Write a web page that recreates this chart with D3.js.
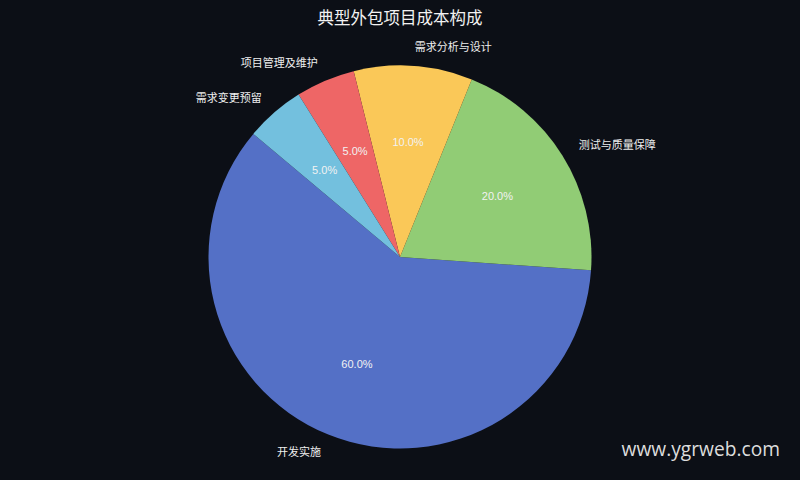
<!DOCTYPE html>
<html><head><meta charset="utf-8">
<script src="https://cdn.jsdelivr.net/npm/d3@7"></script>
<style>html,body{margin:0;padding:0;background:#0c0f16;}svg{display:block;}</style>
</head><body>
<svg id="c" width="800" height="480"></svg>
<script>
const categories = ["开发实施", "测试与质量保障", "需求分析与设计", "项目管理及维护", "需求变更预留"];
const values = [60, 20, 10, 5, 5];
const colors = ["#5470c6", "#91cc75", "#fac858", "#ee6666", "#73c0de"];
const title = "典型外包项目成本构成";
const watermark = "www.ygrweb.com";

const W = 800, H = 480, cx = 400, cy = 257, R = 191.5;
const startDeg = 140; // math angle, counter-clockwise
const svg = d3.select("#c");
svg.append("rect").attr("width", W).attr("height", H).attr("fill", "#0c0f16");

const toD3 = deg => (90 - deg) * Math.PI / 180;
const pie = d3.pie().sort(null).value(d => d)
  .startAngle(toD3(startDeg)).endAngle(toD3(startDeg) - 2 * Math.PI);
const arcs = pie(values);
const arc = d3.arc().innerRadius(0).outerRadius(R);
const g = svg.append("g").attr("transform", `translate(${cx},${cy})`);
const font = "'Liberation Sans','Noto Sans CJK SC',sans-serif";

g.selectAll("path").data(arcs).join("path")
  .attr("d", arc).attr("fill", (d, i) => colors[i]);

const total = d3.sum(values);
arcs.forEach((d, i) => {
  const mid = (d.startAngle + d.endAngle) / 2;
  const sx = Math.sin(mid), sy = -Math.cos(mid);
  g.append("text")
    .attr("x", sx * R * 0.6).attr("y", sy * R * 0.6)
    .attr("text-anchor", "middle").attr("dominant-baseline", "central")
    .attr("fill", "#f2f2f2").attr("font-family", font).attr("font-size", 11)
    .text((values[i] / total * 100).toFixed(1) + "%");
  g.append("text")
    .attr("x", sx * R * 1.1).attr("y", sy * R * 1.1)
    .attr("text-anchor", sx < 0 ? "end" : "start").attr("dominant-baseline", "central")
    .attr("fill", "#eeeeee").attr("font-family", font).attr("font-size", 11)
    .text(categories[i]);
});

svg.append("text").attr("x", 400).attr("y", 24).attr("text-anchor", "middle")
  .attr("fill", "#f2f2f2").attr("font-family", font).attr("font-size", 16.5)
  .text(title);

svg.append("text").attr("x", 780).attr("y", 456).attr("text-anchor", "end")
  .attr("fill", "#dddddd").attr("font-family", "'Open Sans',sans-serif").attr("font-size", 19.2)
  .text(watermark);
</script>
</body></html>
